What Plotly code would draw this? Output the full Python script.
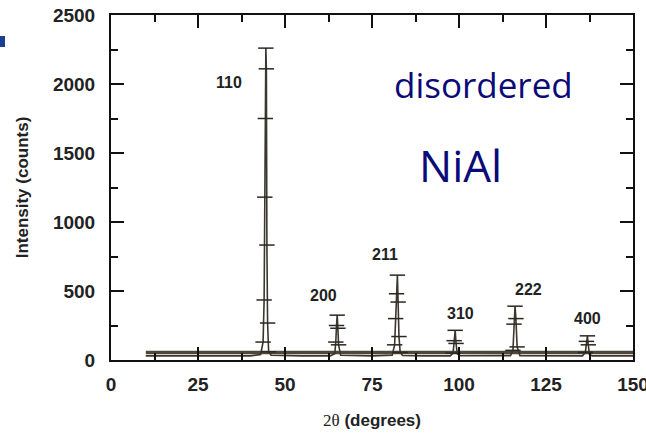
import numpy as np
import plotly.graph_objects as go

# Observed XRD profile (2theta in degrees, counts)
two_theta = [10, 15, 20, 25, 30, 35, 40, 43, 43.7, 44.0, 44.2, 44.35, 44.5, 44.65, 44.8, 45.0, 45.3, 46,
             55, 63, 64.3, 64.6, 64.8, 65.0, 65.2, 65.4, 66,
             75, 80.8, 81.5, 81.8, 82.05, 82.3, 82.5, 82.75, 83.1, 83.8,
             90, 97.5, 98.3, 98.6, 98.9, 99.15, 99.5, 100.3,
             108, 114.8, 115.5, 115.8, 116.1, 116.35, 116.7, 117.5,
             127, 135.5, 136.3, 136.6, 136.9, 137.15, 137.5, 138.3, 145, 150]
counts = [30, 30, 29, 31, 28, 30, 30, 40, 130, 435, 1180, 1750, 2260, 2110, 833, 268, 60, 34,
          30, 30, 45, 130, 250, 325, 230, 110, 34,
          30, 35, 110, 300, 480, 615, 420, 170, 55, 32,
          30, 30, 50, 140, 215, 120, 45, 31,
          30, 32, 70, 260, 390, 300, 95, 32,
          30, 30, 55, 135, 175, 110, 40, 30, 30, 30]

hkl_labels = ["110", "200", "211", "310", "222", "400"]
label_x = [33.9, 61.1, 78.8, 100.5, 119.9, 137.0]
label_y = [2014, 464, 761, 340, 514, 304]

x_ticks = [0, 25, 50, 75, 100, 125, 150]
y_ticks = [0, 500, 1000, 1500, 2000, 2500]

tt = np.array(two_theta)
cc = np.array(counts)
peak_mask = cc > 45
base_level = float(np.median(cc))

fig = go.Figure()
# thick background band
fig.add_trace(go.Scatter(x=[tt.min(), tt.max()], y=[base_level, base_level], mode="lines",
                         line=dict(color="#4e473a", width=3.5), showlegend=False, hoverinfo="skip"))
fig.add_trace(go.Scatter(x=tt, y=cc, mode="lines",
                         line=dict(color="#3b372c", width=1.6), showlegend=False, hoverinfo="skip"))
fig.add_trace(go.Scatter(x=tt[peak_mask], y=cc[peak_mask], mode="markers",
                         marker=dict(symbol="line-ew-open", size=11, color="#2b2820",
                                     line=dict(color="#2b2820", width=1.5)),
                         showlegend=False, hoverinfo="skip"))

for t, lx, ly in zip(hkl_labels, label_x, label_y):
    fig.add_annotation(x=lx, y=ly, text=t, showarrow=False,
                       font=dict(family="Liberation Sans, Arial", size=16, color="#222222", weight="bold"))

fig.add_annotation(x=106.9, y=1993, text="disordered", showarrow=False,
                   font=dict(family="Open Sans", size=35, color="#0a0a78"))
fig.add_annotation(x=100.5, y=1413, text="NiAl", showarrow=False,
                   font=dict(family="Open Sans", size=44, color="#0a0a78"))

fig.add_shape(type="rect", xref="paper", yref="paper", x0=-111/522, x1=-106/522,
              y0=(360-47)/345, y1=(360-36)/345, fillcolor="#1b3f8f", line=dict(width=0), layer="above")

axis_common = dict(showline=True, linecolor="#111111", linewidth=2, mirror="ticks",
                   ticks="inside", ticklen=13, tickwidth=2, tickcolor="#111111",
                   showgrid=False, zeroline=False, automargin=False, ticklabeloverflow="allow",
                   tickfont=dict(family="Liberation Sans, Arial", size=19, color="#222222", weight="bold"))

fig.update_xaxes(range=[0, 150], tickvals=x_ticks, ticktext=[str(v) for v in x_ticks],
                 minor=dict(ticks="inside", dtick=12.5, ticklen=7, tickwidth=2, tickcolor="#111111"),
                 ticklabelstandoff=6,
                 title=dict(text="<span style='font-family:Liberation Serif;font-weight:normal'>2θ</span> (degrees)",
                            font=dict(family="Liberation Sans, Arial", size=17, color="#222222", weight="bold"),
                            standoff=20),
                 **axis_common)
fig.update_yaxes(range=[0, 2500], tickvals=y_ticks, ticktext=[str(v) for v in y_ticks],
                 minor=dict(ticks="inside", dtick=250, ticklen=7, tickwidth=2, tickcolor="#111111"),
                 ticklabelstandoff=10,
                 title=dict(text="Intensity (counts)",
                            font=dict(family="Liberation Sans, Arial", size=17, color="#222222", weight="bold"),
                            standoff=20),
                 **axis_common)

fig.update_layout(width=646, height=438, margin=dict(l=111, r=13, t=15, b=78),
                  plot_bgcolor="white", paper_bgcolor="white")

fig.write_html("out.html", config={"displayModeBar": False},
               post_script="document.documentElement.style.overflow='hidden';"
                           "document.body.style.overflow='hidden';"
                           "document.body.style.margin='0';document.body.style.padding='0';")
